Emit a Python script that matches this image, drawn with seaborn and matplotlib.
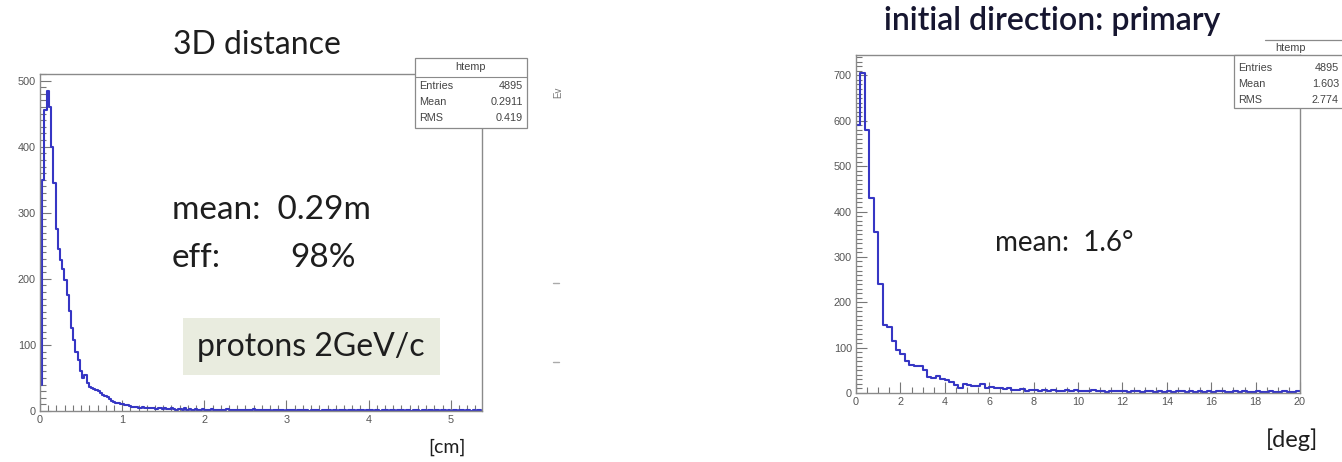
import numpy as np
import pandas as pd
import matplotlib
matplotlib.use("Agg")
import matplotlib.pyplot as plt
from matplotlib.patches import Rectangle
from matplotlib.lines import Line2D
from matplotlib.ticker import MultipleLocator
import seaborn as sns

# ---- data ----
# 3D distance [cm]: 200 bins of 0.027 cm
dist_width = 0.027
dist_counts = [
    40, 350, 455, 485, 460, 400, 345, 275, 245, 228,
    215, 198, 175, 152, 125, 107, 90, 77, 60, 50,
    55, 42, 36, 35, 33, 32, 30, 27, 24, 22,
    21, 18, 15, 14, 12, 12, 11, 10, 9, 9,
    7, 6, 6, 6, 5, 5, 6, 4, 5, 4,
    4, 5, 3, 4, 4, 3, 4, 3, 3, 4,
    3, 2, 3, 3, 2, 4, 2, 3, 2, 2,
    3, 1, 2, 3, 2, 2, 1, 3, 2, 1,
    2, 2, 1, 2, 3, 1, 2, 1, 2, 2,
    1, 2, 1, 1, 2, 1, 3, 1, 1, 2,
    1, 1, 2, 1, 0, 2, 1, 1, 2, 1,
    0, 1, 2, 1, 1, 0, 2, 1, 1, 1,
    2, 0, 1, 1, 2, 1, 0, 1, 1, 2,
    1, 0, 1, 1, 0, 2, 1, 1, 0, 1,
    1, 2, 0, 1, 1, 1, 0, 1, 2, 1,
    0, 1, 1, 0, 1, 1, 2, 0, 1, 1,
    0, 1, 1, 1, 0, 1, 1, 0, 2, 1,
    1, 0, 1, 1, 0, 1, 1, 0, 1, 1,
    0, 1, 1, 0, 1, 0, 1, 1, 0, 1,
    1, 0, 1, 1, 0, 1, 0, 1, 1, 0,
]

# initial direction [deg]: 100 bins of 0.2 deg
dir_width = 0.2
dir_counts = [
    590, 705, 580, 430, 355, 240, 150, 145, 115, 95,
    85, 70, 62, 60, 60, 50, 35, 33, 38, 30,
    28, 25, 18, 12, 20, 18, 16, 15, 20, 12,
    14, 10, 12, 8, 10, 7, 6, 8, 5, 7,
    6, 5, 7, 4, 6, 5, 4, 6, 5, 7,
    5, 4, 5, 6, 4, 5, 3, 5, 4, 4,
    5, 3, 4, 5, 3, 4, 4, 3, 5, 3,
    4, 3, 4, 4, 3, 5, 3, 4, 3, 4,
    3, 4, 5, 3, 3, 4, 3, 4, 3, 3,
    4, 3, 3, 4, 3, 3, 4, 3, 3, 4,
]

left_stats = [("Entries", "4895"), ("Mean", "0.2911"), ("RMS", "0.419")]
right_stats = [("Entries", "4895"), ("Mean", "1.603"), ("RMS", "2.774")]

W, H = 1342, 462
sns.set_style("white")
plt.rcParams["font.family"] = ["Lato", "DejaVu Sans"]

fig = plt.figure(figsize=(W / 100, H / 100), dpi=100)


def fx(px):
    return px / W


def fy(py):
    return 1 - py / H


def axes_px(x0, x1, y0, y1):
    return fig.add_axes([fx(x0), fy(y1), fx(x1) - fx(x0), fy(y0) - fy(y1)])


hist_color = "#3636c4"
root_font = ["Liberation Sans", "DejaVu Sans"]
text_color = "#1e1e1e"


def root_axes(ax, xmax, ymax, xmaj, xmin, ymaj, ymin):
    ax.set_xlim(0, xmax)
    ax.set_ylim(0, ymax)
    ax.xaxis.set_major_locator(MultipleLocator(xmaj))
    ax.xaxis.set_minor_locator(MultipleLocator(xmin))
    ax.yaxis.set_major_locator(MultipleLocator(ymaj))
    ax.yaxis.set_minor_locator(MultipleLocator(ymin))
    ax.tick_params(which="both", direction="in", color="#777777", width=0.8,
                   left=True, bottom=True, top=False, right=False, pad=3)
    ax.tick_params(which="major", length=8)
    ax.tick_params(which="minor", length=4)
    for lab in ax.get_xticklabels() + ax.get_yticklabels():
        lab.set_fontfamily(root_font)
        lab.set_fontsize(7.8)
        lab.set_color("#555555")
    for s in ax.spines.values():
        s.set_color("#8a8a8a")
        s.set_linewidth(1.0)
    ax.set_xlabel("")
    ax.set_ylabel("")
    ax.grid(False)


def stats_box(x0, x1, y0, y1, sep_y, rows, row_ys, val_x):
    fig.add_artist(Rectangle((fx(x0), fy(y1)), fx(x1) - fx(x0), fy(y0) - fy(y1),
                             transform=fig.transFigure, facecolor="white",
                             edgecolor="#8a8a8a", linewidth=0.9, zorder=5))
    fig.add_artist(Line2D([fx(x0), fx(x1)], [fy(sep_y), fy(sep_y)],
                          transform=fig.transFigure, color="#8a8a8a", lw=0.8, zorder=6))
    for (lab, val), ry in zip(rows, row_ys):
        fig.text(fx(x0 + 4), fy(ry), lab, ha="left", va="center", zorder=7,
                 family=root_font, size=7.8, color="#444444")
        fig.text(fx(val_x), fy(ry), val, ha="right", va="center", zorder=7,
                 family=root_font, size=7.8, color="#444444")


# ---- left panel: 3D distance ----
ax1 = axes_px(40, 482, 74, 411)
n_d = len(dist_counts)
d_centers = (np.arange(n_d) + 0.5) * dist_width
dist_df = pd.DataFrame({"cm": d_centers, "n": dist_counts})
sns.histplot(data=dist_df, x="cm", weights="n", bins=n_d, binrange=(0, n_d * dist_width),
             element="step", fill=False, color=hist_color, linewidth=1.5, ax=ax1)
root_axes(ax1, 5.38, 510, 1, 0.1, 100, 10)

stats_box(415, 527, 58, 128, 77, left_stats, [86, 102, 118], 523)
fig.text(fx(471), fy(67), "htemp", ha="center", va="center", zorder=7,
         family=root_font, size=7.8, color="#444444")

fig.text(fx(257), fy(45), "3D distance", ha="center", va="center", size=23, color=text_color)
fig.text(fx(172), fy(210), "mean:  0.29m", ha="left", va="center", size=24, color=text_color)
fig.text(fx(172), fy(258), "eff:", ha="left", va="center", size=24, color=text_color)
fig.text(fx(290), fy(258), "98%", ha="left", va="center", size=24, color=text_color)
fig.add_artist(Rectangle((fx(183), fy(375)), fx(440) - fx(183), fy(318) - fy(375),
                         transform=fig.transFigure, facecolor="#e9ecdf", edgecolor="none"))
fig.text(fx(311), fy(347), "protons 2GeV/c", ha="center", va="center", size=23,
         color=text_color)
fig.text(fx(447), fy(447), "[cm]", ha="center", va="center", size=14, color=text_color)

# cut-off edge of a neighbouring plot
fig.text(fx(558), fy(92), "Ev", ha="center", va="center", rotation=90,
         family=root_font, size=7, color="#777777")
for py in (283, 362):
    fig.add_artist(Line2D([fx(553), fx(559)], [fy(py), fy(py)],
                          transform=fig.transFigure, color="#aaaaaa", lw=1))

# ---- right panel: initial direction ----
ax2 = axes_px(856, 1300, 55, 393)
n_r = len(dir_counts)
r_centers = (np.arange(n_r) + 0.5) * dir_width
dir_df = pd.DataFrame({"deg": r_centers, "n": dir_counts})
sns.histplot(data=dir_df, x="deg", weights="n", bins=n_r, binrange=(0, n_r * dir_width),
             element="step", fill=False, color=hist_color, linewidth=1.5, ax=ax2)
root_axes(ax2, 20, 745, 2, 0.5, 100, 10)

stats_box(1234, 1352, 55, 108, 55, right_stats, [68, 84, 100], 1339)
fig.add_artist(Line2D([fx(1265), fx(1342)], [fy(40), fy(40)],
                      transform=fig.transFigure, color="#8a8a8a", lw=0.9, zorder=6))
fig.text(fx(1290), fy(48), "htemp", ha="center", va="center", zorder=7,
         family=root_font, size=7.8, color="#444444")

fig.text(fx(1052), fy(21), "initial direction: primary", ha="center", va="center",
         size=23, weight="semibold", color="#161630")
fig.text(fx(995), fy(243), "mean:  1.6°", ha="left", va="center", size=20, color=text_color)
fig.text(fx(1292), fy(440), "[deg]", ha="center", va="center", size=17, color=text_color)

fig.savefig("out.png", dpi=100)
